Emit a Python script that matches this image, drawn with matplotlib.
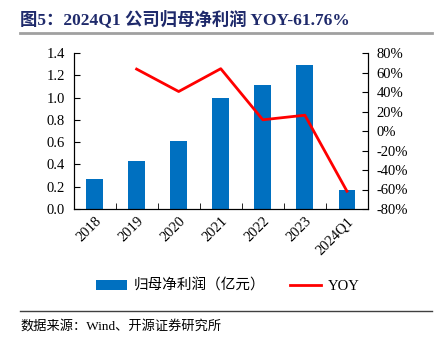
import matplotlib.pyplot as plt
import numpy as np

plt.rcParams['font.family'] = ['Liberation Serif', 'Noto Sans CJK SC', 'DejaVu Sans']

years = ['2018', '2019', '2020', '2021', '2022', '2023', '2024Q1']
profit = [0.27, 0.43, 0.61, 1.00, 1.11, 1.29, 0.17]
yoy_years = ['2019', '2020', '2021', '2022', '2023', '2024Q1']
yoy = [63.5, 40.5, 63.9, 11.5, 16.2, -61.76]

fig = plt.figure(figsize=(4.41, 3.40), dpi=100)
ax = fig.add_axes([73.5 / 441, 1 - 209 / 340, (368 - 73.5) / 441, (209 - 53) / 340])
x = np.arange(len(years))
ax.bar(x, profit, width=0.4, color='#0070C0', label='归母净利润（亿元）', zorder=2)
ax.set_xlim(-0.5, len(years) - 0.5)
ax.set_ylim(0, 1.4)
ax.set_yticks(np.arange(0, 1.41, 0.2))
ax.set_yticklabels([f'{v:.1f}' for v in np.arange(0, 1.41, 0.2)], fontsize=10.5)
ax.set_xticks(x)
ax.set_xticklabels(years, rotation=45, fontsize=10.5, ha='right', rotation_mode='anchor')
ax.set_xticks(np.arange(-0.5, len(years)), minor=True)
ax.tick_params(axis='x', which='major', length=0, pad=4)
ax.tick_params(axis='x', which='minor', direction='in', length=4)
ax.tick_params(axis='y', direction='in', length=4, pad=6)
ax.spines['top'].set_visible(False)

ax2 = ax.twinx()
xi = [years.index(y) for y in yoy_years]
ax2.plot(xi, yoy, color='#FF0000', lw=2, label='YOY', zorder=3)
ax2.set_ylim(-80, 80)
ax2.set_yticks(np.arange(-80, 81, 20))
ax2.set_yticklabels([f'{v}%' for v in range(-80, 81, 20)], fontsize=10.5)
ax2.tick_params(axis='y', direction='in', length=4, pad=6)
ax2.spines['top'].set_visible(False)

h1, l1 = ax.get_legend_handles_labels()
h2, l2 = ax2.get_legend_handles_labels()
fig.legend(h1 + h2, l1 + l2, loc='center', bbox_to_anchor=(228 / 441, 1 - 286 / 340), ncol=2,
           frameon=False, fontsize=10.5, handlelength=2.1, handleheight=0.7,
           handletextpad=0.5, columnspacing=1.7)

fig.text(20 / 441, 1 - 19 / 340, '图5：2024Q1 公司归母净利润 YOY-61.76%', fontsize=12.5,
         fontweight='bold', color='#1F2A6B', va='center')
fig.add_artist(plt.Line2D([20 / 441, 432 / 441], [1 - 33 / 340] * 2, color='#A0A0A0', lw=2))
fig.add_artist(plt.Line2D([20 / 441, 432 / 441], [1 - 311 / 340] * 2, color='#404040', lw=1))
fig.text(20 / 441, 1 - 326 / 340, '数据来源：Wind、开源证券研究所', fontsize=9.5, va='center')

fig.savefig('out.png', dpi=100)
